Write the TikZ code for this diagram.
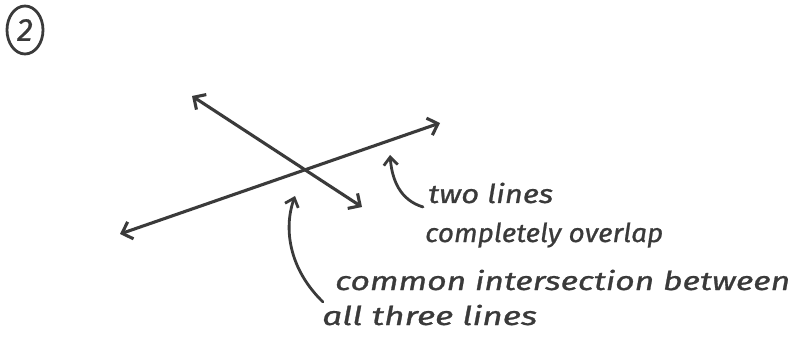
\documentclass[tikz,border=0pt]{standalone}
\usepackage{fontspec}
\usepackage{graphicx}
\newfontfamily\handfont{Fira Sans}[FakeBold=0.8]
\usetikzlibrary{arrows.meta,shapes.geometric}
\definecolor{ink}{HTML}{3A3A3A}
\newcommand\handw[2]{\resizebox{#1}{\height}{#2}}
\tikzset{
  pen/.style={draw=ink, line width=3.1pt, line cap=round, line join=round},
  dbl/.style={pen, {Straight Barb[length=9pt,width=18pt]}-{Straight Barb[length=9pt,width=18pt]}},
  pointer/.style={pen, line width=2.8pt, -{Straight Barb[length=8pt,width=14pt]}},
  hand/.style={text=ink, inner sep=0pt, font=\fontsize{26}{30}\selectfont\handfont\itshape},
}
\begin{document}
\begin{tikzpicture}[x=1pt,y=-1pt]
\useasboundingbox (0,0) rectangle (795,358);
% circled number
\node[pen, line width=2.8pt, ellipse, minimum width=36pt, minimum height=48pt, inner sep=0pt, text=ink, font=\fontsize{32}{34}\selectfont\handfont\itshape] (num) at (25,30) {2};
% the lines
\coordinate (a1) at (120,234);
\coordinate (a2) at (440,123);
\coordinate (b1) at (192,96);
\coordinate (b2) at (362,207);
\draw[dbl] (a1) -- (a2);
\draw[dbl] (b1) -- (b2);
% labels
\node[hand, anchor=base west] (t1) at (428,203) {\handw{125pt}{two lines}};
\node[hand, anchor=base west] (t2) at (425,242) {\handw{238pt}{completely overlap}};
\node[hand, anchor=base west] (t3) at (335,290) {\handw{455pt}{common intersection between}};
\node[hand, anchor=base west] (t4) at (322,325) {\handw{215pt}{all three lines}};
% pointers
\coordinate (p1) at (390,155);
\coordinate (p2) at (295,196);
\draw[pointer] ([xshift=-5pt,yshift=-4pt]t1.base west) .. controls (400,200) and (392,180) .. (p1);
\draw[pointer] ([xshift=-12pt,yshift=-12pt]t3.base west) .. controls (290,270) and (283,230) .. (p2);
\end{tikzpicture}
\end{document}
